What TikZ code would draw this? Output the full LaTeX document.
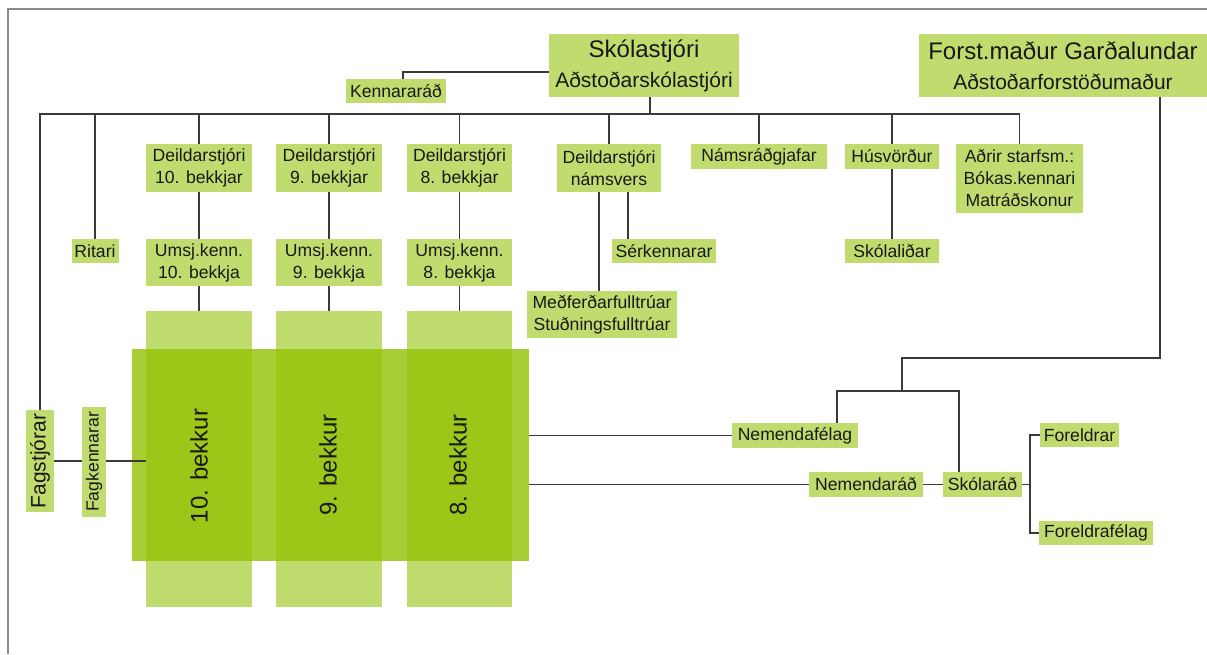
\documentclass[tikz,border=0pt]{standalone}
\usepackage{fontspec}
\setmainfont{Liberation Sans}
\usetikzlibrary{positioning}
\definecolor{boxgreen}{HTML}{C1DC6E}
\definecolor{bandgreen}{HTML}{94C307}
\definecolor{linegray}{HTML}{3A3A3A}
\definecolor{framegray}{HTML}{8A8A8A}
\tikzset{
  box/.style = {fill=boxgreen, inner sep=0pt, align=center, text=black!90,
                font=\fontsize{17.6}{22}\selectfont},
  column/.style = {fill=boxgreen, inner sep=0pt},
  band/.style = {fill=bandgreen, fill opacity=0.82, inner sep=0pt},
  grade/.style = {rotate=90, text=black!90, font=\fontsize{24}{28}\selectfont},
  link/.style = {draw=linegray, line width=1.6pt},
}

\begin{document}
\begin{tikzpicture}[x=1pt, y=-1pt]
    \useasboundingbox (0,0) rectangle (1207,654);
    \draw [framegray, line width=1.4pt] (1207,9) -| (8,654);

    % top
    \node [box, font=\fontsize{21}{30}\selectfont, minimum width=190pt, minimum height=63pt] (head) at (644,65.5)
      {{\fontsize{24}{30}\selectfont Skólastjóri}\\Aðstoðarskólastjóri};
    \node [box, font=\fontsize{21}{30}\selectfont, minimum width=288pt, minimum height=63pt] (forst) at (1063,65.5)
      {{\fontsize{24}{30}\selectfont Forst.maður Garðalundar}\\Aðstoðarforstöðumaður};
    \node [box, minimum width=100pt, minimum height=24pt] (kennr) at (396,91) {Kennararáð};

    % first row
    \node [box, minimum width=106pt, minimum height=48pt] (ds10) at (199,168) {Deildarstjóri\\10. bekkjar};
    \node [box, minimum width=106pt, minimum height=48pt] (ds9) at (329,168) {Deildarstjóri\\9. bekkjar};
    \node [box, minimum width=105pt, minimum height=48pt] (ds8) at (459.5,168) {Deildarstjóri\\8. bekkjar};
    \node [box, minimum width=104pt, minimum height=48pt] (dsnv) at (609,168) {Deildarstjóri\\námsvers};
    \node [box, minimum width=136pt, minimum height=25pt] (nradg) at (759,156.5) {Námsráðgjafar};
    \node [box, minimum width=94pt, minimum height=25pt] (husv) at (892,156.5) {Húsvörður};
    \node [box, minimum width=127pt, minimum height=69pt] (adrir) at (1019.5,178.5) {Aðrir starfsm.:\\Bókas.kennari\\Matráðskonur};

    % second row
    \node [box, minimum width=47pt, minimum height=24pt] (ritari) at (95,251) {Ritari};
    \node [box, minimum width=106pt, minimum height=47pt] (um10) at (199,262.5) {Umsj.kenn.\\10. bekkja};
    \node [box, minimum width=106pt, minimum height=47pt] (um9) at (329,262.5) {Umsj.kenn.\\9. bekkja};
    \node [box, minimum width=105pt, minimum height=47pt] (um8) at (459.5,262.5) {Umsj.kenn.\\8. bekkja};
    \node [box, minimum width=104pt, minimum height=24pt] (serk) at (664,251) {Sérkennarar};
    \node [box, minimum width=150pt, minimum height=47pt] (medf) at (602,314.5) {Meðferðarfulltrúar\\Stuðningsfulltrúar};
    \node [box, minimum width=94pt, minimum height=24pt] (skolal) at (892,251) {Skólaliðar};

    % grades
    \node [column, minimum width=106pt, minimum height=296pt] (col10) at (199,459) {};
    \node [column, minimum width=106pt, minimum height=296pt] (col9) at (329,459) {};
    \node [column, minimum width=105pt, minimum height=296pt] (col8) at (459.5,459) {};
    \node [band, minimum width=397pt, minimum height=212pt] (band) at (330.5,455) {};
    \node [grade] (g10) at (199,466) {10. bekkur};
    \node [grade] (g9) at (328,465) {9. bekkur};
    \node [grade] (g8) at (458,465) {8. bekkur};

    \node [box, rotate=90, font=\fontsize{21}{24}\selectfont, minimum width=102pt, minimum height=28pt] (fagst) at (40,461) {Fagstjórar};
    \node [box, rotate=90, minimum width=110pt, minimum height=24pt] (fagk) at (94,462) {Fagkennarar};

    % students and parents
    \node [box, minimum width=126pt, minimum height=25pt] (nfel) at (795,435.5) {Nemendafélag};
    \node [box, minimum width=114pt, minimum height=25pt] (nrad) at (866,484.5) {Nemendaráð};
    \node [box, minimum width=79pt, minimum height=25pt] (skrad) at (982.5,484.5) {Skólaráð};
    \node [box, minimum width=79pt, minimum height=24pt] (foreldr) at (1079.5,435) {Foreldrar};
    \node [box, minimum width=114pt, minimum height=24pt] (forfel) at (1096,533) {Foreldrafélag};

    \coordinate (bus) at (0,114);
    \coordinate (split) at (902,391);
    \coordinate (fork) at (1030,484.5);

    \draw [link] ([yshift=-6.5pt]head.west) -| ([xshift=7pt]kennr.north);
    \draw [link] ([xshift=6pt]head.south) -- ([xshift=6pt]head.south |- bus);
    \draw [link] (fagst.east) |- (adrir.north |- bus) -- (adrir.north);
    \foreach \n in {ritari, ds10, ds9, ds8, dsnv, nradg, husv}
      \draw [link] (\n.north) -- (\n.north |- bus);
    \foreach \a/\b in {ds10/um10, ds9/um9, ds8/um8, um10/col10, um9/col9, um8/col8, husv/skolal}
      \draw [link] (\a.south) -- (\b.north);
    \draw [link] ([xshift=-10pt]dsnv.south) -- ([xshift=-10pt]dsnv.south |- medf.north);
    \draw [link] ([xshift=19pt]dsnv.south) -- ([xshift=19pt]dsnv.south |- serk.north);
    \draw [link] (fagst.south) -- (fagk.north |- fagst.south);
    \draw [link] (fagk.south |- fagst.south) -- (col10.west |- fagst.south);

    \draw [link] ([xshift=97pt]forst.south) |- ([yshift=33pt]split) -- (split);
    \draw [link] ([xshift=42pt]nfel.north) |- (split) -| ([xshift=-23.5pt]skrad.north);
    \draw [link] (band.east |- nfel.west) -- (nfel.west);
    \draw [link] (band.east |- nrad.west) -- (nrad.west);
    \draw [link] (nrad.east) -- (skrad.west);
    \draw [link] (skrad.east) -- (fork);
    \draw [link] (foreldr.west) -| (fork) |- (forfel.west);
\end{tikzpicture}
\end{document}
